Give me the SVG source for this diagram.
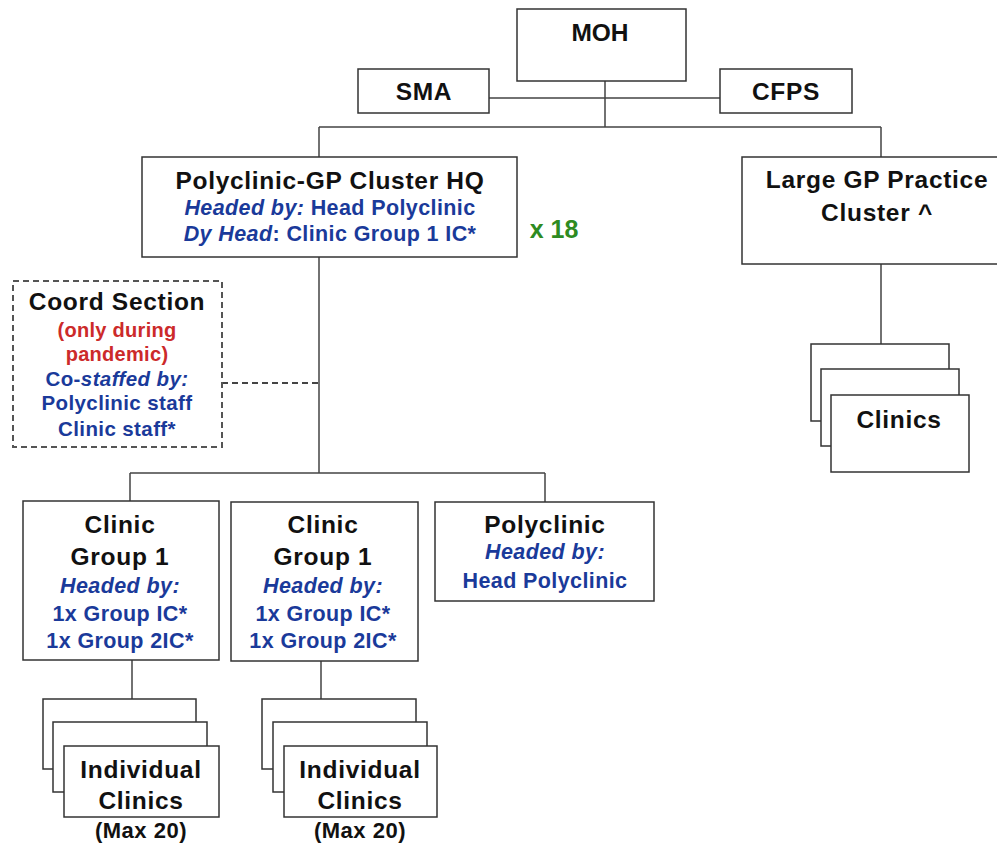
<svg xmlns="http://www.w3.org/2000/svg" width="997" height="843" viewBox="0 0 997 843">
  <style>
    .box { fill: #ffffff; stroke: #333333; stroke-width: 1.5; }
    .dash { fill: #ffffff; stroke: #555555; stroke-width: 2; stroke-dasharray: 6 4; }
    .wire { fill: none; stroke: #444444; stroke-width: 1.5; }
    .wire-dash { fill: none; stroke: #444444; stroke-width: 2; stroke-dasharray: 6 4; }
    text { font-family: "Liberation Sans", Arial, sans-serif; font-weight: bold; text-anchor: middle; }
    .k { fill: #111111; font-size: 24.5px; letter-spacing: 0.7px; }
    .b { fill: #1a3a9a; font-size: 21.5px; letter-spacing: 0.4px; }
    .r { fill: #cc2a2a; font-size: 20px; letter-spacing: 0.3px; }
    .g { fill: #2e8b22; font-size: 25px; }
    .m { fill: #111111; font-size: 22px; letter-spacing: 0.5px; }
    .i { font-style: italic; }
  </style>
  <rect width="997" height="843" fill="#ffffff"/>

  <!-- connectors -->
  <g id="connectors">
    <path class="wire" d="M605 81 V127 M487 98 H722 M319 127 H881 M319 127 V157 M881 127 V157 M881 264 V344"/>
    <path class="wire" d="M319 257 V473 M130 473 H545 M130 473 V501 M545 473 V502"/>
    <path class="wire-dash" d="M222 383 H319"/>
    <path class="wire" d="M132 660 V699 M321 661 V699"/>
  </g>

  <g id="moh">
    <rect class="box" x="517" y="9" width="169" height="72"/>
    <text class="k" x="600" y="41" style="letter-spacing:0">MOH</text>
  </g>

  <g id="sma">
    <rect class="box" x="358" y="69" width="131" height="44"/>
    <text class="k" x="424" y="100">SMA</text>
  </g>

  <g id="cfps">
    <rect class="box" x="720" y="69" width="132" height="44"/>
    <text class="k" x="786" y="100">CFPS</text>
  </g>

  <g id="cluster-hq">
    <rect class="box" x="142" y="157" width="375" height="100"/>
    <text class="k" x="330" y="189">Polyclinic-GP Cluster HQ</text>
    <text class="b" x="330" y="215"><tspan class="i">Headed by:</tspan> Head Polyclinic</text>
    <text class="b" x="330" y="241"><tspan class="i">Dy Head</tspan>: Clinic Group 1 IC*</text>
    <text class="g" x="554" y="238">x 18</text>
  </g>

  <g id="large-gp">
    <rect class="box" x="742" y="157" width="262" height="107"/>
    <text class="k" x="877" y="188">Large GP Practice</text>
    <text class="k" x="877" y="221">Cluster ^</text>
  </g>

  <g id="gp-clinics">
    <rect class="box" x="811" y="344" width="138" height="77"/>
    <rect class="box" x="821" y="369" width="138" height="77"/>
    <rect class="box" x="831" y="395" width="138" height="77"/>
    <text class="k" x="899" y="428">Clinics</text>
  </g>

  <g id="coord-section">
    <rect class="dash" x="13" y="281" width="209" height="166"/>
    <text class="k" x="117" y="310">Coord Section</text>
    <text class="r" x="117" y="337">(only during</text>
    <text class="r" x="117" y="361">pandemic)</text>
    <text class="b" x="117" y="386" style="font-size:20.5px">Co-<tspan class="i">staffed by:</tspan></text>
    <text class="b" x="117" y="410" style="font-size:20.5px">Polyclinic staff</text>
    <text class="b" x="117" y="436" style="font-size:20.5px">Clinic staff*</text>
  </g>

  <g id="clinic-group-a">
    <rect class="box" x="23" y="501" width="196" height="159"/>
    <text class="k" x="120" y="533">Clinic</text>
    <text class="k" x="120" y="565">Group 1</text>
    <text class="b i" x="120" y="593">Headed by:</text>
    <text class="b" x="120" y="621">1x Group IC*</text>
    <text class="b" x="120" y="648">1x Group 2IC*</text>
  </g>

  <g id="clinic-group-b">
    <rect class="box" x="231" y="502" width="187" height="159"/>
    <text class="k" x="323" y="533">Clinic</text>
    <text class="k" x="323" y="565">Group 1</text>
    <text class="b i" x="323" y="593">Headed by:</text>
    <text class="b" x="323" y="621">1x Group IC*</text>
    <text class="b" x="323" y="648">1x Group 2IC*</text>
  </g>

  <g id="polyclinic">
    <rect class="box" x="435" y="502" width="219" height="99"/>
    <text class="k" x="545" y="533">Polyclinic</text>
    <text class="b i" x="545" y="559">Headed by:</text>
    <text class="b" x="545" y="588">Head Polyclinic</text>
  </g>

  <g id="individual-clinics-a">
    <rect class="box" x="43" y="699" width="153" height="70"/>
    <rect class="box" x="53" y="722" width="154" height="70"/>
    <rect class="box" x="64" y="746" width="155" height="71"/>
    <text class="k" x="141" y="778">Individual</text>
    <text class="k" x="141" y="809">Clinics</text>
    <text class="m" x="141" y="838">(Max 20)</text>
  </g>

  <g id="individual-clinics-b">
    <rect class="box" x="262" y="699" width="154" height="70"/>
    <rect class="box" x="273" y="722" width="154" height="70"/>
    <rect class="box" x="284" y="746" width="153" height="71"/>
    <text class="k" x="360" y="778">Individual</text>
    <text class="k" x="360" y="809">Clinics</text>
    <text class="m" x="360" y="838">(Max 20)</text>
  </g>
</svg>
